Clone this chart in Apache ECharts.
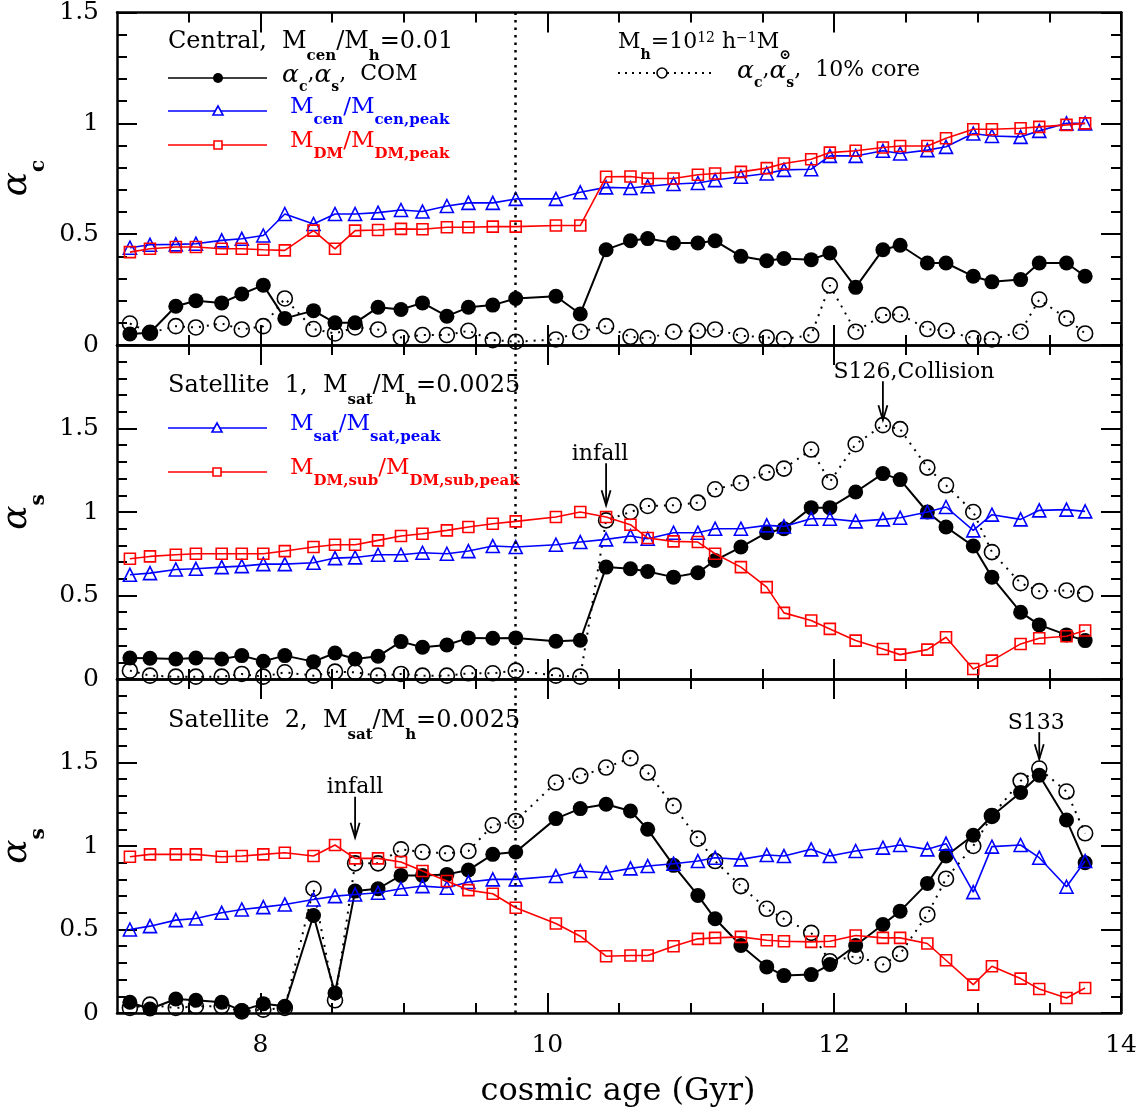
<!DOCTYPE html>
<html>
<head>
<meta charset="utf-8">
<script src="https://cdn.jsdelivr.net/npm/echarts@6/dist/echarts.min.js"></script>
<style>
  html, body { margin: 0; padding: 0; background: #fff; }
  #chart { width: 1140px; height: 1115px; }
</style>
</head>
<body>
<div id="chart"></div>
<script>
// cosmic age of every snapshot (Gyr)
var ages = [7.09, 7.23, 7.41, 7.55, 7.73, 7.87, 8.02, 8.17, 8.37, 8.52, 8.66, 8.82, 8.98, 9.13, 9.30, 9.45, 9.62, 9.78, 10.06, 10.23, 10.41,
            10.58, 10.70, 10.88, 11.05, 11.17, 11.35, 11.53, 11.65, 11.84, 11.97, 12.15, 12.34, 12.46, 12.65, 12.78, 12.97, 13.10, 13.30, 13.43, 13.62, 13.75];

// central
var cenCom  = [0.05, 0.055, 0.175, 0.20, 0.19, 0.23, 0.27, 0.12, 0.155, 0.10, 0.10, 0.17, 0.16, 0.19, 0.13, 0.17, 0.18, 0.21, 0.22, 0.14, 0.43,
               0.47, 0.48, 0.46, 0.46, 0.47, 0.40, 0.38, 0.39, 0.385, 0.415, 0.26, 0.43, 0.45, 0.37, 0.37, 0.31, 0.285, 0.295, 0.37, 0.37, 0.31];
var cenCore = [0.097, 0.055, 0.085, 0.079, 0.097, 0.07, 0.085, 0.21, 0.072, 0.052, 0.079, 0.07, 0.034, 0.045, 0.045, 0.064, 0.022, 0.015, 0.025, 0.06, 0.085,
               0.037, 0.03, 0.06, 0.064, 0.07, 0.042, 0.034, 0.027, 0.045, 0.269, 0.06, 0.135, 0.138, 0.072, 0.064, 0.03, 0.025, 0.06, 0.205, 0.12, 0.052];
var cenStar = [0.439, 0.452, 0.454, 0.457, 0.472, 0.479, 0.494, 0.591, 0.546, 0.591, 0.591, 0.597, 0.609, 0.602, 0.627, 0.641, 0.641, 0.659, 0.659, 0.689, 0.711,
               0.708, 0.716, 0.726, 0.731, 0.744, 0.759, 0.774, 0.79, 0.793, 0.853, 0.853, 0.876, 0.864, 0.879, 0.894, 0.954, 0.943, 0.939, 0.966, 1.0, 1.0];
var cenDM   = [0.419, 0.434, 0.442, 0.442, 0.434, 0.434, 0.43, 0.427, 0.516, 0.434, 0.516, 0.519, 0.524, 0.522, 0.531, 0.531, 0.534, 0.534, 0.539, 0.539, 0.759,
               0.76, 0.751, 0.751, 0.768, 0.774, 0.781, 0.798, 0.819, 0.838, 0.868, 0.876, 0.891, 0.898, 0.898, 0.933, 0.973, 0.973, 0.978, 0.984, 0.993, 1.0];

// satellite 1
var s1Com  = [0.126, 0.124, 0.12, 0.126, 0.12, 0.14, 0.106, 0.14, 0.104, 0.156, 0.12, 0.136, 0.224, 0.19, 0.204, 0.246, 0.244, 0.246, 0.226, 0.232, 0.67,
              0.66, 0.644, 0.61, 0.636, 0.71, 0.79, 0.876, 0.90, 1.026, 1.026, 1.12, 1.23, 1.194, 1.0, 0.91, 0.796, 0.61, 0.40, 0.324, 0.264, 0.23];
var s1Core = [0.05, 0.02, 0.014, 0.014, 0.014, 0.03, 0.014, 0.04, 0.02, 0.044, 0.04, 0.02, 0.03, 0.02, 0.02, 0.034, 0.034, 0.05, 0.02, 0.014, 0.95,
              1.0, 1.036, 1.04, 1.056, 1.136, 1.174, 1.236, 1.26, 1.374, 1.18, 1.406, 1.52, 1.496, 1.266, 1.16, 1.0, 0.76, 0.574, 0.526, 0.53, 0.51];
var s1Star = [0.624, 0.634, 0.656, 0.66, 0.67, 0.676, 0.688, 0.688, 0.696, 0.724, 0.728, 0.744, 0.744, 0.756, 0.75, 0.766, 0.796, 0.79, 0.804, 0.82, 0.836,
              0.856, 0.84, 0.876, 0.876, 0.90, 0.90, 0.92, 0.914, 0.96, 0.96, 0.944, 0.956, 0.966, 1.0, 1.03, 0.89, 0.984, 0.956, 1.01, 1.014, 1.004];
var s1DM   = [0.72, 0.734, 0.744, 0.75, 0.75, 0.75, 0.75, 0.766, 0.79, 0.804, 0.804, 0.83, 0.856, 0.87, 0.89, 0.91, 0.93, 0.944, 0.97, 1.0, 0.97,
              0.924, 0.844, 0.824, 0.82, 0.75, 0.67, 0.55, 0.396, 0.35, 0.30, 0.23, 0.18, 0.146, 0.176, 0.25, 0.06, 0.11, 0.21, 0.244, 0.256, 0.29];

// satellite 2
var s2Com  = [0.064, 0.024, 0.084, 0.076, 0.064, 0.014, 0.056, 0.04, 0.584, 0.12, 0.73, 0.744, 0.824, 0.824, 0.83, 0.856, 0.95, 0.964, 1.164, 1.224, 1.25,
              1.21, 1.10, 0.884, 0.704, 0.564, 0.404, 0.276, 0.224, 0.23, 0.29, 0.404, 0.53, 0.61, 0.776, 0.94, 1.064, 1.18, 1.32, 1.424, 1.156, 0.90];
var s2Core = [0.03, 0.05, 0.03, 0.04, 0.04, 0.01, 0.02, 0.03, 0.744, 0.076, 0.896, 0.896, 0.98, 0.964, 0.956, 0.97, 1.124, 1.15, 1.38, 1.42, 1.47,
              1.526, 1.44, 1.24, 1.044, 0.91, 0.76, 0.624, 0.564, 0.48, 0.31, 0.34, 0.29, 0.354, 0.59, 0.804, 1.0, 1.18, 1.39, 1.464, 1.326, 1.076];
var s2Star = [0.50, 0.52, 0.556, 0.566, 0.60, 0.62, 0.634, 0.65, 0.68, 0.70, 0.71, 0.72, 0.744, 0.76, 0.75, 0.784, 0.80, 0.80, 0.82, 0.85, 0.84,
              0.866, 0.88, 0.894, 0.91, 0.93, 0.92, 0.946, 0.94, 0.98, 0.94, 0.97, 0.99, 1.006, 0.98, 1.014, 0.724, 0.996, 1.006, 0.93, 0.756, 0.91];
var s2DM   = [0.936, 0.95, 0.95, 0.95, 0.936, 0.94, 0.95, 0.96, 0.94, 1.006, 0.926, 0.926, 0.904, 0.85, 0.79, 0.736, 0.714, 0.63, 0.536, 0.46, 0.34,
              0.344, 0.344, 0.40, 0.444, 0.45, 0.456, 0.436, 0.43, 0.426, 0.43, 0.464, 0.45, 0.45, 0.416, 0.316, 0.17, 0.28, 0.206, 0.144, 0.09, 0.15];

var xMajorTicks = [8, 10, 12, 14];
var xMinorTicks = [7.5, 8.5, 9, 9.5, 10.5, 11, 11.5, 12.5, 13, 13.5];
var yMaxes = [1.5, 2, 2];
var markAge = 9.78;   // vertical dotted line

var FONT = 'DejaVu Serif';
var BLUE = '#0000ff', RED = '#ff0000';

var chart = echarts.init(document.getElementById('chart'));

var panelTops = [11, 345, 679];
var grids = [], xAxes = [], yAxes = [], series = [];

function pts(vals) {
    return ages.map(function (t, k) { return [t, vals[k]]; });
}

for (var i = 0; i < 3; i++) {
    grids.push({ left: 117, right: 19, top: panelTops[i], height: 334 });
    ['bottom', 'top'].forEach(function (pos) {
        xAxes.push({
            type: 'value', gridIndex: i, position: pos, min: 7, max: 14,
            axisLine: { show: true, lineStyle: { color: '#000', width: 2.5 } },
            axisTick: { show: true, inside: true, length: 20, customValues: xMajorTicks, lineStyle: { color: '#000', width: 2 } },
            axisLabel: { show: i === 2 && pos === 'bottom', customValues: xMajorTicks, margin: 20,
                         fontFamily: FONT, fontSize: 25, color: '#000' },
            splitLine: { show: false }
        });
        xAxes.push({
            type: 'value', gridIndex: i, position: pos, min: 7, max: 14,
            axisLine: { show: false },
            axisTick: { show: true, inside: true, length: 10, customValues: xMinorTicks, lineStyle: { color: '#000', width: 2 } },
            axisLabel: { show: false },
            splitLine: { show: false }
        });
    });
    ['left', 'right'].forEach(function (pos) {
        yAxes.push({
            type: 'value', gridIndex: i, position: pos, min: 0, max: yMaxes[i], interval: 0.5,
            axisLine: { show: true, lineStyle: { color: '#000', width: 2.5 } },
            axisTick: { show: true, inside: true, length: 20, lineStyle: { color: '#000', width: 2 } },
            minorTick: { show: true, splitNumber: 5, length: 10, lineStyle: { color: '#000', width: 2 } },
            axisLabel: { show: pos === 'left', margin: 18, fontFamily: FONT, fontSize: 25, color: '#000',
                         formatter: function (v) { return v > 1.5 ? '' : String(v); } },
            splitLine: { show: false }, minorSplitLine: { show: false }
        });
    });
}

function addPanel(i, com, core, star, dm) {
    var xi = 4 * i, yi = 2 * i;
    var base = { type: 'line', xAxisIndex: xi, yAxisIndex: yi, emphasis: { disabled: true }, silent: true };
    series.push(Object.assign({}, base, {
        data: pts(core), symbol: 'circle', symbolSize: 15,
        itemStyle: { color: 'rgba(0,0,0,0)', borderColor: '#000', borderWidth: 1.6 },
        lineStyle: { color: '#000', width: 2, type: [2, 6] }, z: 2
    }));
    series.push(Object.assign({}, base, {
        data: pts(com), symbol: 'circle', symbolSize: 15,
        itemStyle: { color: '#000' },
        lineStyle: { color: '#000', width: 2 }, z: 3,
        markLine: { silent: true, symbol: ['none', 'none'], label: { show: false },
                    lineStyle: { color: '#000', width: 2.5, type: [2.5, 5] },
                    data: [{ xAxis: markAge }] }
    }));
    series.push(Object.assign({}, base, {
        data: pts(star), symbol: 'triangle', symbolSize: 13,
        itemStyle: { color: 'rgba(0,0,0,0)', borderColor: BLUE, borderWidth: 1.6 },
        lineStyle: { color: BLUE, width: 1.6 }, z: 4
    }));
    series.push(Object.assign({}, base, {
        data: pts(dm), symbol: 'rect', symbolSize: 11,
        itemStyle: { color: 'rgba(0,0,0,0)', borderColor: RED, borderWidth: 1.6 },
        lineStyle: { color: RED, width: 1.6 }, z: 5
    }));
}
addPanel(0, cenCom, cenCore, cenStar, cenDM);
addPanel(1, s1Com, s1Core, s1Star, s1DM);
addPanel(2, s2Com, s2Core, s2Star, s2DM);

chart.setOption({
    animation: false,
    backgroundColor: '#fff',
    grid: grids, xAxis: xAxes, yAxis: yAxes, series: series
});

// rich text styles: n normal, s subscript, p superscript, a greek alpha
function rich(color, size) {
    var sub = Math.round(size * 0.64);
    return {
        n: { fontFamily: FONT, fontSize: size, lineHeight: Math.round(size * 1.4), verticalAlign: 'top', fill: color, color: color },
        s: { fontFamily: FONT, fontSize: sub, fontWeight: 'bold', lineHeight: sub, verticalAlign: 'bottom', fill: color, color: color },
        p: { fontFamily: FONT, fontSize: sub, lineHeight: sub, verticalAlign: 'top', fill: color, color: color },
        a: { fontFamily: FONT, fontSize: size + 3, fontStyle: 'italic', lineHeight: Math.round(size * 1.4), verticalAlign: 'top', fill: color, color: color }
    };
}
function label(x, y, text, color, size) {
    return { type: 'text', x: x, y: y, silent: true,
             style: { text: text, rich: rich(color || '#000', size || 22), fill: color || '#000', align: 'left', verticalAlign: 'top' } };
}
function hline(x1, x2, y, color, dash) {
    return { type: 'line', silent: true, shape: { x1: x1, y1: y, x2: x2, y2: y },
             style: { stroke: color, lineWidth: dash ? 2 : 1.6, lineDash: dash || null } };
}
function tri(cx, cy, color) {
    return { type: 'polygon', silent: true, shape: { points: [[cx, cy - 5], [cx - 5, cy + 4], [cx + 5, cy + 4]] },
             style: { fill: '#fff', stroke: color, lineWidth: 1.6 } };
}
function sq(cx, cy, color) {
    return { type: 'rect', silent: true, shape: { x: cx - 4, y: cy - 4, width: 8, height: 8 },
             style: { fill: '#fff', stroke: color, lineWidth: 1.6 } };
}

var g = [];
// panel 1 header and legend
g.push(label(168, 30, '{n|Central,  M}{s|cen}{n|/M}{s|h}{n|=0.01}', '#000', 24));
g.push(hline(168, 267, 78, '#000'));
g.push({ type: 'circle', silent: true, shape: { cx: 218, cy: 78, r: 5 }, style: { fill: '#000' } });
g.push(label(282, 63, '{a|α}{s|c}{n|,}{a|α}{s|s}{n|,  COM}'));
g.push(hline(168, 267, 111, BLUE));
g.push(tri(218, 111, BLUE));
g.push(label(290, 96, '{n|M}{s|cen}{n|/M}{s|cen,peak}', BLUE, 23));
g.push(hline(168, 267, 145, RED));
g.push(sq(218, 145, RED));
g.push(label(290, 130, '{n|M}{s|DM}{n|/M}{s|DM,peak}', RED, 23));
g.push(label(618, 31, '{n|M}{s|h}{n|=10}{p|12}{n| h}{p|−1}{n|M}{s|⊙}'));
g.push(hline(618, 715, 73, '#000', [2, 5]));
g.push({ type: 'circle', silent: true, shape: { cx: 662, cy: 73, r: 5 }, style: { fill: '#fff', stroke: '#000', lineWidth: 1.6 } });
g.push(label(737, 59, '{a|α}{s|c}{n|,}{a|α}{s|s}{n|,  10% core}'));

// panel 2
g.push(label(168, 374, '{n|Satellite  1,  M}{s|sat}{n|/M}{s|h}{n|=0.0025}', '#000', 24));
g.push(hline(168, 267, 428, BLUE));
g.push(tri(217, 428, BLUE));
g.push(label(290, 413, '{n|M}{s|sat}{n|/M}{s|sat,peak}', BLUE, 23));
g.push(hline(168, 267, 472, RED));
g.push(sq(217, 472, RED));
g.push(label(290, 457, '{n|M}{s|DM,sub}{n|/M}{s|DM,sub,peak}', RED, 23));

// panel 3
g.push(label(168, 709, '{n|Satellite  2,  M}{s|sat}{n|/M}{s|h}{n|=0.0025}', '#000', 24));

// y titles
var yTitle = {
    a: { fontFamily: FONT, fontSize: 36, fontStyle: 'italic', lineHeight: 50, verticalAlign: 'top', fill: '#000' },
    s: { fontFamily: FONT, fontSize: 20, fontWeight: 'bold', lineHeight: 20, verticalAlign: 'bottom', fill: '#000' }
};
[['c', 178], ['s', 512], ['s', 846]].forEach(function (d) {
    g.push({ type: 'text', x: 24, y: d[1], rotation: Math.PI / 2, silent: true,
             style: { text: '{a|α}{s|' + d[0] + '}', rich: yTitle, align: 'center', verticalAlign: 'middle' } });
});

// x title
g.push({ type: 'text', x: 618, y: 1108, silent: true,
         style: { text: 'cosmic age (Gyr)', fontFamily: FONT, fontSize: 32, fill: '#000', align: 'center', verticalAlign: 'bottom' } });

// arrows with labels, placed from data coordinates
var notes = [
    { panel: 1, text: 'infall', tip: [10.41, 1.04], len: 42, dx: -6 },
    { panel: 1, text: 'S126,Collision', tip: [12.34, 1.55], len: 39, dx: 31 },
    { panel: 2, text: 'infall', tip: [8.66, 1.05], len: 41, dx: 0 },
    { panel: 2, text: 'S133', tip: [13.43, 1.52], len: 27, dx: -3 }
];
notes.forEach(function (nt) {
    var p = chart.convertToPixel({ xAxisIndex: 4 * nt.panel, yAxisIndex: 2 * nt.panel }, nt.tip);
    var top = p[1] - nt.len;
    g.push({ type: 'line', silent: true, shape: { x1: p[0], y1: top, x2: p[0], y2: p[1] }, style: { stroke: '#000', lineWidth: 1.8 } });
    g.push({ type: 'polyline', silent: true, shape: { points: [[p[0] - 4.5, p[1] - 15], [p[0], p[1]], [p[0] + 4.5, p[1] - 15]] },
             style: { stroke: '#000', lineWidth: 1.8, fill: null } });
    g.push({ type: 'text', x: p[0] + nt.dx, y: top + 2, silent: true,
             style: { text: nt.text, fontFamily: FONT, fontSize: 22, fill: '#000', align: 'center', verticalAlign: 'bottom' } });
});

chart.setOption({ graphic: g });
</script>
</body>
</html>
